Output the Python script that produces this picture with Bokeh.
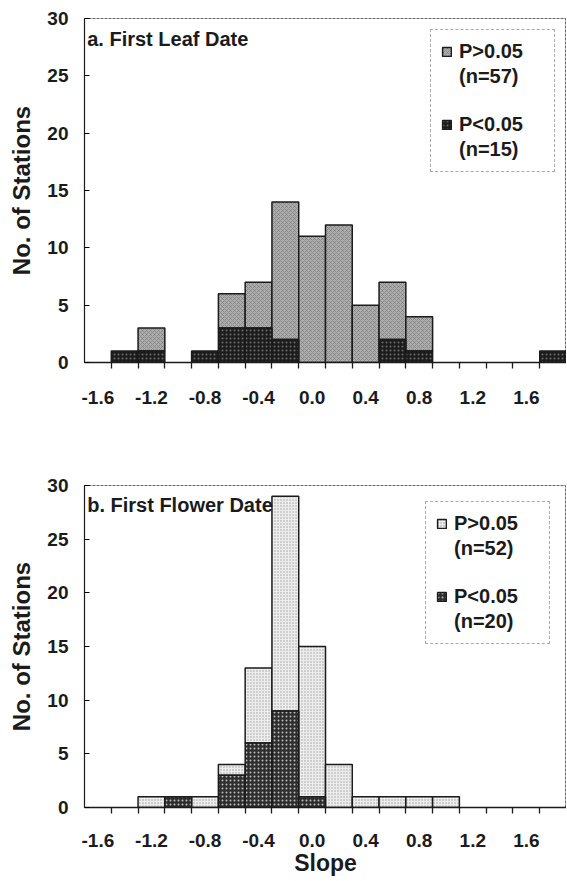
from bokeh.plotting import figure
from bokeh.layouts import column
from bokeh.models import (Range1d, FixedTicker, NumeralTickFormatter, Legend,
                          LegendItem, Label, ColumnDataSource)
from bokeh.embed import file_html
from bokeh.resources import INLINE

# ---------------- data ----------------
bin_centers = [-1.6, -1.4, -1.2, -1.0, -0.8, -0.6, -0.4, -0.2, 0.0, 0.2,
               0.4, 0.6, 0.8, 1.0, 1.2, 1.4, 1.6, 1.8]
bin_width = 0.2

leaf_sig = [0, 1, 1, 0, 1, 3, 3, 2, 0, 0, 0, 2, 1, 0, 0, 0, 0, 1]        # P<0.05 (n=15)
leaf_nonsig = [0, 0, 2, 0, 0, 3, 4, 12, 11, 12, 5, 5, 3, 0, 0, 0, 0, 0]  # P>0.05 (n=57)

flower_sig = [0, 0, 0, 1, 0, 3, 6, 9, 1, 0, 0, 0, 0, 0, 0, 0, 0, 0]      # P<0.05 (n=20)
flower_nonsig = [0, 0, 1, 0, 1, 1, 7, 20, 14, 4, 1, 1, 1, 1, 0, 0, 0, 0] # P>0.05 (n=52)

x_tick_values = [-1.6, -1.2, -0.8, -0.4, 0.0, 0.4, 0.8, 1.2, 1.6]
y_tick_values = [0, 5, 10, 15, 20, 25, 30]

leaf_title = "a. First Leaf Date"
flower_title = "b. First Flower Date"
leaf_labels = ["P>0.05", "(n=57)", "P<0.05", "(n=15)"]
flower_labels = ["P>0.05", "(n=52)", "P<0.05", "(n=20)"]

FONT = "Liberation Sans"
INK = "#1b1b1b"


def stacked_sources(sig, nonsig):
    s = dict(left=[], right=[], bottom=[], top=[])
    n = dict(left=[], right=[], bottom=[], top=[])
    for c, a, b in zip(bin_centers, sig, nonsig):
        if a > 0:
            s["left"].append(c - bin_width / 2); s["right"].append(c + bin_width / 2)
            s["bottom"].append(0); s["top"].append(a)
        if b > 0:
            n["left"].append(c - bin_width / 2); n["right"].append(c + bin_width / 2)
            n["bottom"].append(a); n["top"].append(a + b)
    return ColumnDataSource(s), ColumnDataSource(n)


def make_panel(sig, nonsig, title, labels, styles, height, border_top,
               border_bottom, show_xlabel, legend_margin, label_standoff):
    p = figure(width=566, height=height, output_backend="svg", toolbar_location=None,
               x_range=Range1d(-1.7, 1.9), y_range=Range1d(0, 30),
               min_border_left=84, min_border_right=0,
               min_border_top=border_top, min_border_bottom=border_bottom)
    p.background_fill_color = "white"
    p.border_fill_color = "white"
    p.grid.visible = False
    p.outline_line_color = "#666666"
    p.outline_line_dash = "3 1"
    p.outline_line_width = 1

    src_sig, src_non = stacked_sources(sig, nonsig)
    st_non, st_sig = styles
    r_non = p.quad(left="left", right="right", bottom="bottom", top="top",
                   source=src_non, line_color=INK, line_width=1.5, **st_non)
    r_sig = p.quad(left="left", right="right", bottom="bottom", top="top",
                   source=src_sig, line_color=INK, line_width=1.5, **st_sig)
    # invisible renderer used only for the second text line of each legend entry
    r_blank = p.quad(left=[], right=[], bottom=[], top=[],
                     fill_alpha=0, line_alpha=0)

    minor = [c - bin_width / 2 for c in bin_centers] + [bin_centers[-1] + bin_width / 2]
    xa = p.xaxis[0]
    xa.ticker = FixedTicker(ticks=x_tick_values, minor_ticks=minor)
    xa.formatter = NumeralTickFormatter(format="0.0")
    xa.major_tick_in = 0
    xa.major_tick_out = 0
    xa.minor_tick_in = 0
    xa.minor_tick_out = 6
    xa.minor_tick_line_color = INK
    xa.minor_tick_line_width = 1.3
    xa.axis_line_color = INK
    xa.axis_line_width = 1.5
    xa.major_label_standoff = label_standoff
    xa.major_label_text_font = FONT
    xa.major_label_text_font_style = "bold"
    xa.major_label_text_font_size = "19px"
    xa.major_label_text_color = INK
    if show_xlabel:
        xa.axis_label = "Slope"
        xa.axis_label_text_font = FONT
        xa.axis_label_text_font_style = "bold"
        xa.axis_label_text_font_size = "23px"
        xa.axis_label_text_color = INK
        xa.axis_label_standoff = 0

    ya = p.yaxis[0]
    ya.ticker = FixedTicker(ticks=y_tick_values)
    ya.major_tick_in = 5
    ya.major_tick_out = 0
    ya.minor_tick_line_color = None
    ya.axis_line_color = INK
    ya.axis_line_width = 1.2
    ya.major_label_standoff = 16
    ya.major_label_text_font = FONT
    ya.major_label_text_font_style = "bold"
    ya.major_label_text_font_size = "19px"
    ya.major_label_text_color = INK
    ya.axis_label = "No. of Stations"
    ya.axis_label_text_font = FONT
    ya.axis_label_text_font_style = "bold"
    ya.axis_label_text_font_size = "24px"
    ya.axis_label_text_color = INK
    ya.axis_label_standoff = 9

    p.add_layout(Label(x=-1.68, y=28.2, text=title, text_baseline="middle",
                       text_font=FONT, text_font_style="bold",
                       text_font_size="20px", text_color=INK))

    legend = Legend(items=[LegendItem(label=labels[0], renderers=[r_non]),
                           LegendItem(label=labels[1] + "\n ", renderers=[r_blank]),
                           LegendItem(label=labels[2], renderers=[r_sig]),
                           LegendItem(label=labels[3], renderers=[r_blank])],
                    location="top_right", margin=legend_margin,
                    border_line_color="#555555", border_line_dash="3 2",
                    border_line_width=1, background_fill_alpha=1,
                    label_text_font=FONT, label_text_font_style="bold",
                    label_text_font_size="20px", label_text_color=INK,
                    label_height=16, label_width=85,
                    glyph_width=11, glyph_height=11, label_standoff=7,
                    padding=10, spacing=2)
    p.add_layout(legend)
    return p


leaf_styles = (
    dict(fill_color="#adadad", hatch_pattern="diagonal_cross", hatch_color="#767676",
         hatch_scale=4, hatch_weight=0.6),
    dict(fill_color="#1c1c1c", hatch_pattern="dot", hatch_color="#6a6a6a",
         hatch_scale=4, hatch_weight=1),
)
flower_styles = (
    dict(fill_color="#ededed", hatch_pattern="dot", hatch_color="#a0a0a0",
         hatch_scale=3, hatch_weight=0.8),
    dict(fill_color="#2e2e2e", hatch_pattern="dot", hatch_color="#bdbdbd",
         hatch_scale=4, hatch_weight=1.2),
)

top = make_panel(leaf_sig, leaf_nonsig, leaf_title, leaf_labels, leaf_styles,
                 height=438, border_top=18, border_bottom=76,
                 show_xlabel=False, legend_margin=11, label_standoff=22)
bottom = make_panel(flower_sig, flower_nonsig, flower_title, flower_labels, flower_styles,
                    height=441, border_top=47, border_bottom=72,
                    show_xlabel=True, legend_margin=16, label_standoff=20)

layout = column(top, bottom, spacing=0)
open("out.html", "w").write(file_html(layout, INLINE))
